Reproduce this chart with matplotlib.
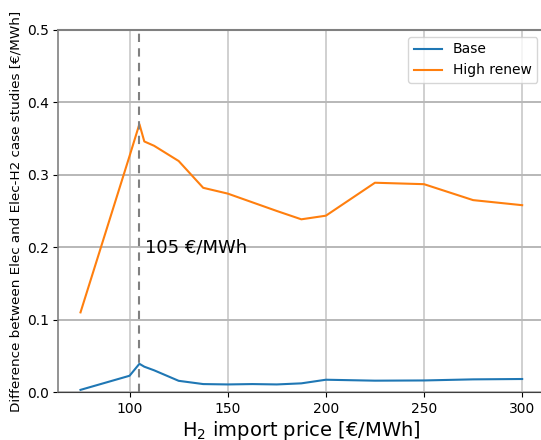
import matplotlib
matplotlib.use('Agg')
import matplotlib.pyplot as plt

# H2 import price steps and cost differences per case
prices = [75, 100, 105, 107.5, 112.5, 125, 137.5, 150, 162.5, 175, 187.5, 200, 225, 250, 275, 300]
base = [0.003, 0.0225, 0.039, 0.035, 0.030, 0.0155, 0.011, 0.0105, 0.011, 0.0105, 0.012, 0.017, 0.0157, 0.016, 0.0175, 0.018]
high_renew = [0.11, 0.326, 0.370, 0.346, 0.340, 0.319, 0.282, 0.274, 0.262, 0.250, 0.2385, 0.2435, 0.289, 0.287, 0.265, 0.258]
threshold = 105

fig = plt.figure(figsize=(5.41, 4.40), dpi=100)
ax = fig.add_axes([0.108, 0.109, 0.898, 0.823])

ax.plot(prices, base, color='#1f77b4', linewidth=1.5, label='Base')
ax.plot(prices, high_renew, color='#ff7f0e', linewidth=1.5, label='High renew')
ax.axvline(threshold, color='gray', linestyle='--', linewidth=1.5, dashes=(4, 3))
ax.text(threshold + 3, 0.2, f'{threshold} €/MWh', fontsize=13, va='center', ha='left')

ax.set_ylim(0, 0.5)
ax.set_xticks([100, 150, 200, 250, 300])
ax.set_yticks([0.0, 0.1, 0.2, 0.3, 0.4, 0.5])
ax.grid(axis='y', color='#b8b8b8', linewidth=1.4)
ax.grid(axis='x', color='#c8c8c8', linewidth=1.2)
ax.set_axisbelow(True)

ax.spines['right'].set_visible(False)
ax.spines['top'].set_color('gray')
ax.spines['top'].set_linewidth(1.5)
ax.spines['left'].set_color('gray')
ax.spines['left'].set_linewidth(1.2)
ax.spines['bottom'].set_color('#404040')

ax.tick_params(labelsize=10)
ax.set_xlabel('H$_2$ import price [€/MWh]', fontsize=14, labelpad=2)
ax.set_ylabel('Difference between Elec and Elec-H2 case studies [€/MWh]', fontsize=9.7, labelpad=3)
ax.legend(loc='upper right', fontsize=10)

fig.savefig('out.png', dpi=100)
